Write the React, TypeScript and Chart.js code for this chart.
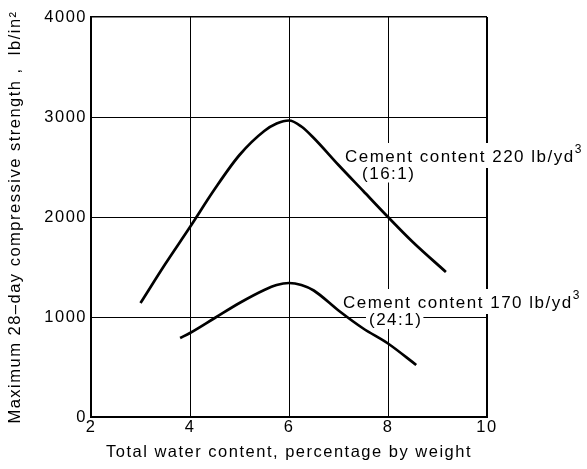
import { useEffect, useRef } from "react";
import { Chart, registerables } from "chart.js";

Chart.register(...registerables);

// Upper curve: cement content 220 lb/yd3 (16:1)
const upperX = [3.0, 3.5, 4.0, 4.5, 5.0, 5.5, 5.75, 6.0, 6.25, 6.5, 7.0, 7.5, 8.0, 8.5, 9.17];
const upperY = [1140, 1530, 1900, 2280, 2620, 2860, 2935, 2965, 2905, 2790, 2520, 2260, 2000, 1750, 1450];

// Lower curve: cement content 170 lb/yd3 (24:1)
const lowerX = [3.8, 4.0, 4.5, 5.0, 5.5, 5.75, 6.0, 6.25, 6.5, 7.0, 7.5, 8.0, 8.57];
const lowerY = [790, 840, 990, 1140, 1270, 1320, 1340, 1320, 1265, 1065, 885, 735, 520];

const xTicks = [2, 4, 6, 8, 10];
const yTicks = [0, 1000, 2000, 3000, 4000];

const xTitle = "Total water content, percentage by weight";
const yTitle = "Maximum 28–day compressive strength ,  lb/in²";

const upperLabel = ["Cement content 220 lb/yd", "3", "(16:1)"];
const lowerLabel = ["Cement content 170 lb/yd", "3", "(24:1)"];

const FONT = "'Liberation Sans', Arial, Helvetica, sans-serif";

const labelPlugin = {
  id: "curveLabels",
  beforeDraw(chart: any) {
    chart.ctx.letterSpacing = "1.5px";
  },
  beforeDatasetsDraw(chart: any) {
    const { ctx, scales } = chart;
    const xs = scales.x;
    const ys = scales.y;
    const items = [
      { t: upperLabel, x: 7.13, y: 2550, sx: 7.475, sy: 2385 },
      { t: lowerLabel, x: 7.09, y: 1090, sx: 7.616, sy: 920 },
    ];
    ctx.save();
    ctx.letterSpacing = "1.5px";
    ctx.textAlign = "left";
    ctx.textBaseline = "alphabetic";
    for (const it of items) {
      const px = xs.getPixelForValue(it.x);
      const py = ys.getPixelForValue(it.y);
      const qx = xs.getPixelForValue(it.sx);
      const qy = ys.getPixelForValue(it.sy);
      ctx.font = `17px ${FONT}`;
      const w = ctx.measureText(it.t[0]).width;
      const w2 = ctx.measureText(it.t[2]).width;
      ctx.font = `12px ${FONT}`;
      const ws = ctx.measureText(it.t[1]).width;
      ctx.fillStyle = "#fff";
      ctx.fillRect(px - 2, py - 19, w + ws + 4, 25);
      ctx.fillRect(qx - 3, qy - 14, w2 + 4, 18);
      ctx.fillStyle = "#000";
      ctx.font = `17px ${FONT}`;
      ctx.fillText(it.t[0], px, py);
      ctx.fillText(it.t[2], qx, qy);
      ctx.font = `12px ${FONT}`;
      ctx.fillText(it.t[1], px + w, py - 9);
    }
    ctx.restore();
    ctx.letterSpacing = "1.5px";
  },
};

export default function App() {
  const ref = useRef<HTMLCanvasElement | null>(null);

  useEffect(() => {
    document.body.style.margin = "0";
    const canvas = ref.current;
    if (!canvas) return;
    Chart.defaults.font.family = FONT;
    Chart.defaults.color = "#000";

    const chart = new Chart(canvas, {
      type: "line",
      data: {
        datasets: [
          {
            data: upperX.map((x, i) => ({ x, y: upperY[i] })),
            borderColor: "#000",
            borderWidth: 2.7,
            pointRadius: 0,
            cubicInterpolationMode: "monotone",
            fill: false,
          },
          {
            data: lowerX.map((x, i) => ({ x, y: lowerY[i] })),
            borderColor: "#000",
            borderWidth: 2.7,
            pointRadius: 0,
            cubicInterpolationMode: "monotone",
            fill: false,
          },
        ],
      },
      options: {
        animation: false,
        responsive: false,
        devicePixelRatio: 1,
        layout: { padding: { left: 0, right: 100, top: 17, bottom: 0 } },
        plugins: {
          legend: { display: false },
          tooltip: { enabled: false },
        },
        scales: {
          x: {
            type: "linear",
            min: 2,
            max: 10,
            afterBuildTicks: (s: any) => {
              s.ticks = xTicks.map((v) => ({ value: v }));
            },
            afterFit: (s: any) => {
              s.height = 52;
            },
            grid: {
              color: "#000",
              lineWidth: (c: any) => (c.tick && c.tick.value === 10 ? 2 : 1),
              drawTicks: false,
            },
            border: { color: "#000", width: 2 },
            ticks: {
              font: { size: 16.5 },
              color: "#000",
              padding: 1,
              maxRotation: 0,
              callback: (v: any) => String(v),
            },
            title: {
              display: true,
              text: xTitle,
              color: "#000",
              font: { size: 16.5, lineHeight: 1.2 },
              padding: { top: 0, bottom: 6.5 },
            },
          },
          y: {
            type: "linear",
            min: 0,
            max: 4000,
            afterBuildTicks: (s: any) => {
              s.ticks = yTicks.map((v) => ({ value: v }));
            },
            afterFit: (s: any) => {
              s.width = 91;
            },
            grid: {
              color: "#000",
              lineWidth: (c: any) => (c.tick && c.tick.value === 4000 ? 1.5 : 1),
              drawTicks: false,
            },
            border: { color: "#000", width: 2 },
            ticks: {
              font: { size: 16.5 },
              color: "#000",
              padding: 4,
              callback: (v: any) => String(v),
            },
            title: {
              display: true,
              text: yTitle,
              color: "#000",
              font: { size: 16.5, lineHeight: 1.2 },
              padding: { top: 5.5, bottom: 0 },
            },
          },
        },
      },
      plugins: [labelPlugin],
    } as any);

    return () => chart.destroy();
  }, []);

  return (
    <div style={{ position: "fixed", left: 0, top: 0, width: 587, height: 469, background: "#fff" }}>
      <canvas ref={ref} width={587} height={469} style={{ display: "block" }} />
    </div>
  );
}
